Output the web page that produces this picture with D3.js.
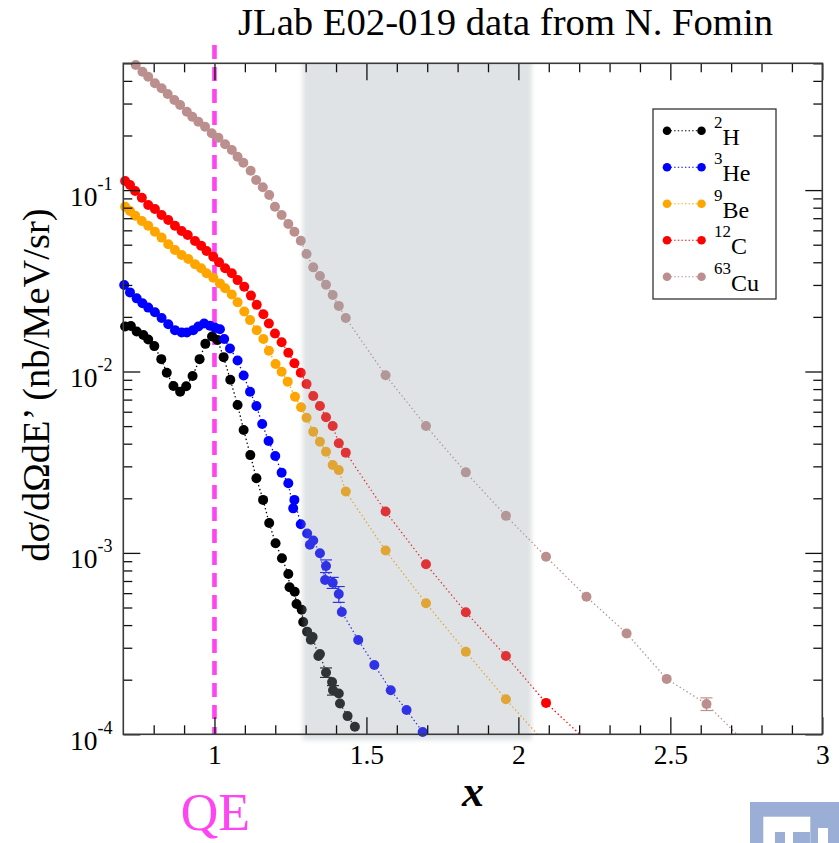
<!DOCTYPE html>
<html>
<head>
<meta charset="utf-8">
<script src="https://cdn.jsdelivr.net/npm/d3@7"></script>
<style>
  html, body { margin: 0; padding: 0; background: #ffffff; }
  svg { display: block; }
  text { font-family: "Liberation Serif", "Times New Roman", "DejaVu Serif", serif; }
</style>
</head>
<body>
<svg id="chart" width="839" height="843"></svg>
<script>
// ---- data: [x, dσ/dΩdE' in nb/MeV/sr] ----
const h2 = [
  [0.706,0.0177],[0.725,0.0178],[0.744,0.0166],[0.766,0.0159],[0.782,0.0150],[0.802,0.0138],
  [0.825,0.0117],[0.843,0.00985],[0.865,0.00832],[0.887,0.00774],[0.907,0.00829],[0.928,0.00944],
  [0.951,0.0117],[0.970,0.0142],[0.992,0.0156],[1.010,0.0149],[1.030,0.0120],[1.052,0.00901],
  [1.076,0.00654],[1.096,0.00476],[1.118,0.00346],[1.138,0.00258],[1.160,0.00196],[1.180,0.00146],
  [1.201,0.00113],[1.222,0.000934],[1.243,0.000765],[1.247,0.000646],[1.264,0.000611],[1.270,0.000523],
  [1.287,0.000486],[1.292,0.000416],[1.305,0.000368],[1.317,0.000332],[1.323,0.000344],[1.342,0.000270],
  [1.347,0.000277],[1.367,0.000219],[1.387,0.000194],[1.390,0.000175],[1.409,0.000168],[1.413,0.000148],
  [1.438,0.000126],[1.462,0.000110]
];
const he3 = [
  [0.703,0.0300],[0.722,0.0273],[0.744,0.0253],[0.763,0.0238],[0.782,0.0225],[0.804,0.0212],
  [0.826,0.0197],[0.848,0.0182],[0.870,0.0169],[0.892,0.0164],[0.909,0.0164],[0.930,0.0169],
  [0.947,0.0177],[0.966,0.0184],[0.985,0.0179],[1.002,0.0174],[1.018,0.0171],[1.032,0.0151],
  [1.051,0.0134],[1.076,0.0115],[1.096,0.00950],[1.117,0.00774],[1.138,0.00645],[1.157,0.00514],
  [1.178,0.00414],[1.200,0.00342],[1.221,0.00277],[1.243,0.00242],[1.259,0.00176],[1.263,0.00196],
  [1.284,0.00144],[1.305,0.00128],[1.314,0.00111],[1.325,0.00117],[1.347,0.000995],[1.364,0.000709],
  [1.367,0.000847],[1.389,0.000685],[1.409,0.000593],[1.419,0.000472],[1.473,0.000331],[1.526,0.000241],
  [1.580,0.000175],[1.632,0.000136],[1.685,0.000103]
];
const be9 = [
  [0.706,0.0810],[0.722,0.0767],[0.739,0.0723],[0.761,0.0676],[0.782,0.0636],[0.804,0.0590],
  [0.826,0.0547],[0.848,0.0503],[0.870,0.0468],[0.892,0.0439],[0.914,0.0417],[0.936,0.0390],
  [0.956,0.0371],[0.974,0.0348],[0.996,0.0329],[1.018,0.0306],[1.035,0.0288],[1.057,0.0266],
  [1.076,0.0241],[1.098,0.0214],[1.117,0.0192],[1.139,0.0169],[1.161,0.0151],[1.179,0.0130],
  [1.201,0.0110],[1.221,0.00997],[1.241,0.00879],[1.265,0.00726],[1.285,0.00635],[1.303,0.00556],
  [1.325,0.00466],[1.347,0.00410],[1.367,0.00361],[1.389,0.00305],[1.409,0.00286],[1.432,0.00218],
  [1.563,0.00103],[1.696,0.000528],[1.827,0.000285],[1.959,0.000156],[2.091,0.0000884]
];
const c12 = [
  [0.706,0.1122],[0.722,0.1067],[0.739,0.0989],[0.761,0.0908],[0.782,0.0828],[0.804,0.0787],
  [0.826,0.0729],[0.848,0.0684],[0.870,0.0636],[0.892,0.0595],[0.912,0.0566],[0.936,0.0524],
  [0.956,0.0494],[0.974,0.0462],[0.996,0.0429],[1.015,0.0400],[1.035,0.0371],[1.057,0.0348],
  [1.076,0.0319],[1.098,0.0293],[1.120,0.0262],[1.139,0.0233],[1.161,0.0207],[1.179,0.0184],
  [1.199,0.0162],[1.221,0.0145],[1.243,0.0127],[1.263,0.0111],[1.284,0.00985],[1.303,0.00853],
  [1.325,0.00733],[1.347,0.00645],[1.367,0.00559],[1.389,0.00501],[1.409,0.00402],[1.432,0.00357],
  [1.563,0.00169],[1.696,0.000866],[1.827,0.000471],[1.959,0.000270],[2.091,0.000149],[2.224,0.0000924]
];
const cu63 = [
  [0.741,0.489],[0.763,0.4495],[0.782,0.4218],[0.804,0.3879],[0.826,0.3640],[0.846,0.3387],
  [0.868,0.3138],[0.887,0.2944],[0.909,0.2705],[0.927,0.2539],[0.947,0.2383],[0.969,0.2236],
  [0.991,0.2056],[1.013,0.1945],[1.035,0.1789],[1.057,0.1664],[1.076,0.1528],[1.095,0.1416],
  [1.119,0.1279],[1.137,0.1137],[1.159,0.1036],[1.180,0.0940],[1.199,0.0810],[1.221,0.0729],
  [1.243,0.0650],[1.263,0.0590],[1.284,0.0526],[1.303,0.0444],[1.325,0.0375],[1.347,0.0336],
  [1.367,0.0301],[1.389,0.0264],[1.409,0.0230],[1.432,0.0197],[1.563,0.00953],[1.696,0.00501],
  [1.827,0.00278],[1.959,0.00160],[2.091,0.000953],[2.224,0.000573],[2.356,0.000360],[2.488,0.000202],
  [2.619,0.000147],[2.751,0.0000884]
];

// series: legend mass number, symbol, colour
const seriesKeys   = ["h2", "he3", "be9", "c12", "cu63"];
const seriesMass   = ["2", "3", "9", "12", "63"];
const seriesSymbol = ["H", "He", "Be", "C", "Cu"];
const seriesColor  = ["#000000", "#0000ff", "#ffa500", "#ff0000", "#bc8f8f"];
const seriesData   = [h2, he3, be9, c12, cu63];

// larger statistical uncertainties: [series index, point index, relative error]
const errorBars = [
  [1, 36, 0.08], [1, 37, 0.07], [1, 38, 0.10],
  [0, 37, 0.06], [0, 39, 0.06],
  [4, 42, 0.08]
];

// axes
const xDomain = [0.7, 3];
const yDomain = [1e-4, 0.5];
const xMajorTicks = [1, 1.5, 2, 2.5, 3];
const xMinorTicks = [0.8, 0.9, 1.1, 1.2, 1.3, 1.4, 1.6, 1.7, 1.8, 1.9, 2.1, 2.2, 2.3, 2.4, 2.6, 2.7, 2.8, 2.9];
const yDecades = [-4, -3, -2, -1];
const shadedRange = [1.29, 2.044];
const qeX = 1;

const titleText = "JLab E02-019 data from N. Fomin";
const yLabelText = "dσ/dΩdE’ (nb/MeV/sr)";
const xLabelText = "x";
const qeText = "QE";

// ---- layout ----
const W = 839, H = 843;
const plot = { left: 123.3, right: 822.3, top: 63.3, bottom: 734.3 };
const serif = "'Liberation Serif','Times New Roman','DejaVu Serif',serif";

const svg = d3.select("#chart");
const x = d3.scaleLinear().domain(xDomain).range([plot.left, plot.right]);
const y = d3.scaleLog().domain(yDomain).range([plot.bottom, plot.top]);

const yMajorTicks = yDecades.map(k => Math.pow(10, k));
const yMinorTicks = [];
yDecades.forEach(k => {
  for (let m = 2; m <= 9; m++) {
    const v = m * Math.pow(10, k);
    if (v <= yDomain[1]) yMinorTicks.push(v);
  }
});

const defs = svg.append("defs");
defs.append("clipPath").attr("id", "plotClip")
  .append("rect")
  .attr("x", plot.left).attr("y", plot.top)
  .attr("width", plot.right - plot.left).attr("height", plot.bottom - plot.top);
defs.append("clipPath").attr("id", "bandClip")
  .append("rect")
  .attr("x", 0).attr("y", plot.top).attr("width", W).attr("height", H - plot.top);
defs.append("filter").attr("id", "soft")
  .attr("x", "-10%").attr("y", "-10%").attr("width", "120%").attr("height", "120%")
  .append("feGaussianBlur").attr("stdDeviation", 2.2);

// title
svg.append("text")
  .attr("x", 238).attr("y", 35)
  .attr("font-family", serif)
  .attr("font-size", 37.5)
  .attr("textLength", 535).attr("lengthAdjust", "spacingAndGlyphs")
  .attr("fill", "#000")
  .text(titleText);

// quasi-elastic marker line
svg.append("line")
  .attr("x1", x(qeX)).attr("x2", x(qeX))
  .attr("y1", 45).attr("y2", plot.bottom)
  .attr("stroke", "#ff44f2").attr("stroke-width", 4.6)
  .attr("stroke-dasharray", "14,8");

// data: dotted connectors, then markers
const line = d3.line().x(d => x(d[0])).y(d => y(d[1]));
const gSeries = svg.append("g");
seriesData.forEach((data, i) => {
  const g = gSeries.append("g").attr("class", "series-" + seriesKeys[i]);
  g.append("path")
    .attr("d", line(data))
    .attr("clip-path", "url(#plotClip)")
    .attr("fill", "none")
    .attr("stroke", seriesColor[i])
    .attr("stroke-width", 1.3)
    .attr("stroke-dasharray", "1.4,2.6");
  g.selectAll("circle")
    .data(data.filter(d => d[1] >= yDomain[0] * 0.97))
    .join("circle")
    .attr("cx", d => x(d[0]))
    .attr("cy", d => y(d[1]))
    .attr("r", 5)
    .attr("fill", seriesColor[i]);
});

// error bars
const gErr = svg.append("g");
errorBars.forEach(([si, pi, rel]) => {
  const d = seriesData[si][pi];
  const cx = x(d[0]);
  const yLo = y(d[1] * (1 - rel)), yHi = y(d[1] * (1 + rel));
  const col = seriesColor[si];
  gErr.append("line").attr("x1", cx).attr("x2", cx).attr("y1", yLo).attr("y2", yHi)
    .attr("stroke", col).attr("stroke-width", 1.2);
  [yLo, yHi].forEach(yy => gErr.append("line")
    .attr("x1", cx - 6).attr("x2", cx + 6).attr("y1", yy).attr("y2", yy)
    .attr("stroke", col).attr("stroke-width", 1.2));
});

// shaded x range (translucent grey over the points)
svg.append("g").attr("clip-path", "url(#bandClip)")
  .append("rect")
  .attr("x", x(shadedRange[0])).attr("y", plot.top - 6)
  .attr("width", x(shadedRange[1]) - x(shadedRange[0]))
  .attr("height", plot.bottom - plot.top + 12)
  .attr("fill", "rgb(155,165,171)").attr("fill-opacity", 0.31)
  .attr("filter", "url(#soft)");

// axes: inward ticks on all four sides
const tickColor = "#111";
function styleAxis(g) {
  g.select(".domain").remove();
  g.selectAll(".tick line").attr("stroke", tickColor).attr("stroke-width", 1.3);
}
svg.append("g").attr("transform", `translate(0,${plot.bottom})`)
  .call(d3.axisBottom(x).tickValues(xMinorTicks).tickSize(-9).tickSizeOuter(0).tickFormat(""))
  .call(styleAxis);
const gxb = svg.append("g").attr("transform", `translate(0,${plot.bottom})`)
  .call(d3.axisBottom(x).tickValues(xMajorTicks).tickSize(-17).tickSizeOuter(0)
    .tickPadding(10).tickFormat(d => String(d)))
  .call(styleAxis);
gxb.attr("font-family", serif);
gxb.selectAll(".tick text")
  .attr("font-family", serif)
  .attr("font-size", 27.5).attr("fill", "#000");
svg.append("g").attr("transform", `translate(0,${plot.top})`)
  .call(d3.axisTop(x).tickValues(xMinorTicks).tickSize(-9).tickSizeOuter(0).tickFormat(""))
  .call(styleAxis);
svg.append("g").attr("transform", `translate(0,${plot.top})`)
  .call(d3.axisTop(x).tickValues(xMajorTicks).tickSize(-17).tickSizeOuter(0).tickFormat(""))
  .call(styleAxis);
svg.append("g").attr("transform", `translate(${plot.left},0)`)
  .call(d3.axisLeft(y).tickValues(yMinorTicks).tickSize(-9).tickSizeOuter(0).tickFormat(""))
  .call(styleAxis);
svg.append("g").attr("transform", `translate(${plot.left},0)`)
  .call(d3.axisLeft(y).tickValues(yMajorTicks).tickSize(-17).tickSizeOuter(0).tickFormat(""))
  .call(styleAxis);
svg.append("g").attr("transform", `translate(${plot.right},0)`)
  .call(d3.axisRight(y).tickValues(yMinorTicks).tickSize(-9).tickSizeOuter(0).tickFormat(""))
  .call(styleAxis);
svg.append("g").attr("transform", `translate(${plot.right},0)`)
  .call(d3.axisRight(y).tickValues(yMajorTicks).tickSize(-17).tickSizeOuter(0).tickFormat(""))
  .call(styleAxis);

// frame
svg.append("rect")
  .attr("x", plot.left).attr("y", plot.top)
  .attr("width", plot.right - plot.left).attr("height", plot.bottom - plot.top)
  .attr("fill", "none").attr("stroke", "#3a3a3a").attr("stroke-width", 1.6);

// y tick labels as powers of ten
const gyl = svg.append("g");
yDecades.forEach(k => {
  const yy = y(Math.pow(10, k));
  const t = gyl.append("text")
    .attr("x", 70).attr("y", yy + 15.5)
    .attr("font-family", serif)
    .attr("font-size", 27.5).attr("fill", "#000");
  t.append("tspan").text("10");
  t.append("tspan").attr("font-size", 18).attr("dy", -16).text(String(k));
});

// axis titles
svg.append("text")
  .attr("transform", `translate(49,${385}) rotate(-90)`)
  .attr("text-anchor", "middle")
  .attr("font-family", serif)
  .attr("font-size", 38.5).attr("fill", "#000")
  .text(yLabelText);
svg.append("text")
  .attr("x", 473).attr("y", 806)
  .attr("text-anchor", "middle")
  .attr("font-family", serif)
  .attr("font-size", 44).attr("font-weight", "bold").attr("font-style", "italic")
  .attr("fill", "#000")
  .text(xLabelText);

svg.append("text")
  .attr("x", x(qeX) + 1).attr("y", 830)
  .attr("text-anchor", "middle")
  .attr("font-family", serif)
  .attr("font-size", 52).attr("fill", "#ff44f2")
  .text(qeText);

// legend
const legend = { x: 653, y: 109, w: 123, h: 190, row0: 130.7, rowStep: 36.5 };
const gl = svg.append("g");
gl.append("rect")
  .attr("x", legend.x).attr("y", legend.y).attr("width", legend.w).attr("height", legend.h)
  .attr("fill", "#fff").attr("stroke", "#333").attr("stroke-width", 1.3);
seriesKeys.forEach((key, i) => {
  const ry = legend.row0 + i * legend.rowStep;
  gl.append("line")
    .attr("x1", 667).attr("x2", 701).attr("y1", ry).attr("y2", ry)
    .attr("stroke", seriesColor[i]).attr("stroke-width", 1.1).attr("stroke-dasharray", "1.4,2.2");
  [667, 701.5].forEach(cx => gl.append("circle")
    .attr("cx", cx).attr("cy", ry).attr("r", 4.3).attr("fill", seriesColor[i]));
  const t = gl.append("text").attr("x", 714).attr("y", ry - 3)
    .attr("font-family", serif).attr("fill", "#000");
  t.append("tspan").attr("font-size", 17).text(seriesMass[i]);
  t.append("tspan").attr("font-size", 24).attr("dy", 17).text(seriesSymbol[i]);
});

// corner emblem
const emblem = svg.append("g");
emblem.append("rect").attr("x", 750).attr("y", 802).attr("width", 89).attr("height", 41).attr("fill", "#9aaed6");
emblem.append("rect").attr("x", 763.3).attr("y", 816.7).attr("width", 47).attr("height", 27).attr("fill", "#ffffff");
emblem.append("rect").attr("x", 775).attr("y", 832).attr("width", 10).attr("height", 11).attr("fill", "#9aaed6");
emblem.append("rect").attr("x", 793).attr("y", 832).attr("width", 17).attr("height", 11).attr("fill", "#9aaed6");
emblem.append("rect").attr("x", 818).attr("y", 828).attr("width", 10).attr("height", 15).attr("fill", "#ffffff");
</script>
</body>
</html>
